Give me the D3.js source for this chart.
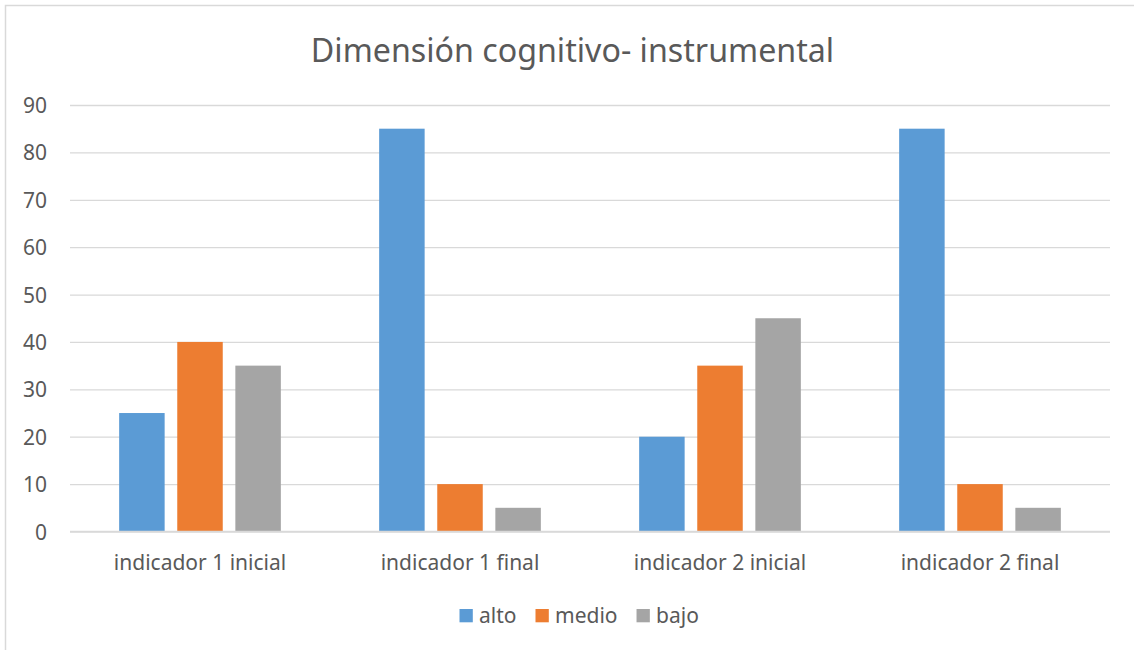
<!DOCTYPE html>
<html><head><meta charset="utf-8">
<script src="https://cdn.jsdelivr.net/npm/d3@7"></script>
<style>body{margin:0;background:#fff}svg{display:block}text{font-family:"Noto Sans",sans-serif;fill:#595959}</style>
</head><body><svg id="c" width="1134" height="650"></svg>
<script>
const title = "Dimensión cognitivo- instrumental";
const categories = ["indicador 1 inicial","indicador 1 final","indicador 2 inicial","indicador 2 final"];
const seriesNames = ["alto","medio","bajo"];
const alto  = [25, 85, 20, 85];
const medio = [40, 10, 35, 10];
const bajo  = [35, 5, 45, 5];
const yTicks = [0,10,20,30,40,50,60,70,80,90];
const colors = ["#5b9bd5","#ed7d31","#a5a5a5"];
const values = [alto, medio, bajo];

const svg = d3.select("#c");
svg.append("rect").attr("x",5.5).attr("y",5.5).attr("width",1140).attr("height",660)
  .attr("fill","#fff").attr("stroke","#d9d9d9").attr("stroke-width",1.5);

const L=70, R=1110, T=105, B=531.5;
const x0 = d3.scaleBand().domain(categories).range([L,R]).padding(0);
const x1 = d3.scaleBand().domain(seriesNames).range([0,x0.bandwidth()]).paddingInner(0.217).paddingOuter(0.846);
const y = d3.scaleLinear().domain([0,90]).range([B,T]);

// gridlines
const yAxis = d3.axisLeft(y).tickValues(yTicks).tickSize(-(R-L)).tickPadding(23);
const gy = svg.append("g").attr("transform",`translate(${L},0)`).call(yAxis);
gy.select(".domain").remove();
gy.selectAll(".tick line").attr("stroke","#d9d9d9").attr("stroke-width",1.3);
gy.selectAll(".tick text").style("font-size","21px").attr("fill","#595959").attr("dy","0.36em");

// bars
const g = svg.append("g");
seriesNames.forEach((s,si)=>{
  g.selectAll(null).data(categories).enter().append("rect")
    .attr("x",c=>x0(c)+x1(s))
    .attr("width",x1.bandwidth())
    .attr("y",(c,i)=>y(values[si][i]))
    .attr("height",(c,i)=>y(0)-y(values[si][i]))
    .attr("fill",colors[si]);
});
// baseline
svg.append("line").attr("x1",L).attr("x2",R).attr("y1",B).attr("y2",B).attr("stroke","#d9d9d9").attr("stroke-width",1.3);

// category labels
const xAxis = d3.axisBottom(x0).tickSize(0).tickPadding(0);
const gx = svg.append("g").attr("transform",`translate(0,${B})`).call(xAxis);
gx.select(".domain").remove();
gx.selectAll(".tick text").style("font-size","21px").attr("fill","#595959").attr("y",38.5).attr("dy",0);

// title
svg.append("text").attr("x",572.5).attr("y",62).attr("text-anchor","middle")
  .style("font-size","32.2px").text(title);

// legend
let lx = 459.5;
const leg = svg.append("g");
seriesNames.forEach((s,i)=>{
  leg.append("rect").attr("x",lx).attr("y",609).attr("width",13.3).attr("height",13.3).attr("fill",colors[i]);
  const t = leg.append("text").attr("x",lx+19.5).attr("y",622.5).style("font-size","21px").text(s);
  lx = lx + 19.5 + t.node().getComputedTextLength() + 19;
});
</script></body></html>
